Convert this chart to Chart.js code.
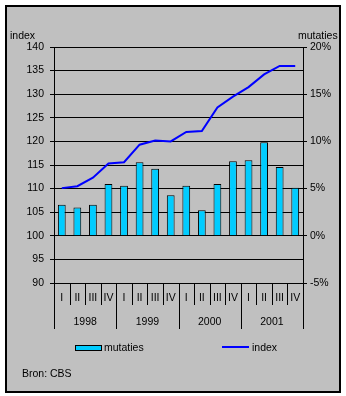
<!DOCTYPE html>
<html>
<head>
<meta charset="utf-8">
<script src="https://cdn.jsdelivr.net/npm/chart.js@4"></script>
<style>
html,body{margin:0;padding:0;background:#fff;}
#wrap{position:relative;width:346px;height:396px;overflow:hidden;}
#frame{position:absolute;left:5px;top:5px;width:332px;height:384px;border:2px solid #000;background:#c0c0c0;}
canvas{position:absolute;left:0;top:0;}
.t{position:absolute;font-family:"Liberation Sans",Arial,sans-serif;font-size:10.5px;color:#000;white-space:nowrap;line-height:12px;}
</style>
</head>
<body>
<div id="wrap">
<div id="frame"></div>
<canvas id="c" width="346" height="396"></canvas>
<div class="t" style="left:10px;top:29px;">index</div>
<div class="t" style="left:298px;top:29px;">mutaties</div>
<div style="position:absolute;left:75px;top:345px;width:25px;height:4px;background:#00ccff;border:1px solid #000;"></div>
<div class="t" style="left:104px;top:341px;">mutaties</div>
<div style="position:absolute;left:222px;top:346px;width:27px;height:2px;background:#0000ff;"></div>
<div class="t" style="left:252px;top:341px;">index</div>
<div class="t" style="left:22px;top:367px;">Bron: CBS</div>
</div>
<script>
const quarters = ["I","II","III","IV","I","II","III","IV","I","II","III","IV","I","II","III","IV"];
const years = ["1998","1999","2000","2001"];
const mutaties = [3.3,3.0,3.3,5.5,5.3,7.8,7.1,4.3,5.3,2.7,5.5,7.9,8.0,9.9,7.3,5.1];
const index = [110.1,110.5,112.3,115.3,115.6,119.3,120.2,120.0,122.0,122.2,127.2,129.5,131.5,134.2,136.0,136.0];
const leftTicks = [90,140,5];
const rightTicks = [-5,20,5];

const FONT = {family:'"Liberation Sans", Arial, sans-serif', size:10.5};

const xLabels = {
  id:'xLabels',
  afterDraw(chart){
    const ctx = chart.ctx, x = chart.scales.x, a = chart.chartArea;
    const step = x.getPixelForValue(1) - x.getPixelForValue(0);
    ctx.save();
    ctx.strokeStyle = '#000'; ctx.lineWidth = 1;
    ctx.fillStyle = '#000';
    ctx.font = FONT.size + 'px ' + FONT.family;
    ctx.textAlign = 'center'; ctx.textBaseline = 'middle';
    const b = Math.round(a.bottom);
    for (let i = 0; i <= quarters.length; i++) {
      const px = Math.round(x.getPixelForValue(i) - step/2) + 0.5;
      const yearEdge = (i % 4 === 0);
      ctx.beginPath();
      ctx.moveTo(px, b);
      ctx.lineTo(px, yearEdge ? b + 46 : b + 22);
      ctx.stroke();
    }
    quarters.forEach((q,i)=>{
      ctx.fillText(q, x.getPixelForValue(i), b + 15);
    });
    years.forEach((y,j)=>{
      const c = (x.getPixelForValue(j*4) + x.getPixelForValue(j*4+3))/2;
      ctx.fillText(y, c, b + 39);
    });
    ctx.restore();
  }
};

new Chart(document.getElementById('c'), {
  type:'bar',
  data:{
    labels: quarters,
    datasets:[
      {type:'line', label:'index', data:index, yAxisID:'y', borderColor:'#0000ff', borderWidth:2, pointRadius:0, tension:0, fill:false, order:0},
      {type:'bar', label:'mutaties', data:mutaties, yAxisID:'y1', backgroundColor:'#00ccff', borderColor:'#000', borderWidth:1, barPercentage:0.5, categoryPercentage:1, order:1}
    ]
  },
  options:{
    responsive:false, animation:false,
    layout:{padding:{left:0,right:0,top:47,bottom:113}},
    plugins:{legend:{display:false}, tooltip:{enabled:false}},
    scales:{
      x:{display:false, offset:true},
      y:{
        position:'left', min:leftTicks[0], max:leftTicks[1],
        afterFit(s){ s.width = 54; },
        ticks:{stepSize:leftTicks[2], color:'#000', font:FONT, padding:6},
        grid:{color:'#000', lineWidth:1, tickLength:4, drawTicks:true},
        border:{display:true, color:'#000', width:1}
      },
      y1:{
        position:'right', min:rightTicks[0], max:rightTicks[1],
        afterFit(s){ s.width = 43; },
        ticks:{stepSize:rightTicks[2], color:'#000', font:FONT, padding:3, callback:v=>v+'%'},
        grid:{drawOnChartArea:false, color:'#000', tickLength:4},
        border:{display:true, color:'#000', width:1}
      }
    }
  },
  plugins:[xLabels]
});
</script>
</body>
</html>
